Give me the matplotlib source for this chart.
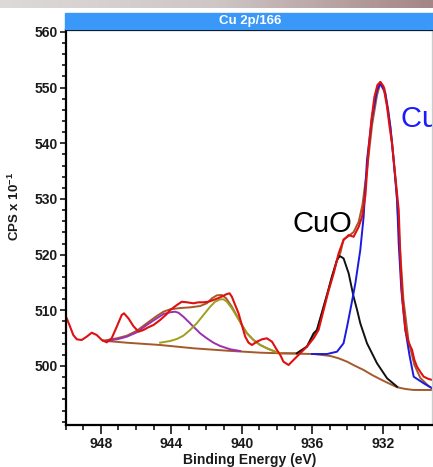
import numpy as np
import matplotlib
matplotlib.use('Agg')
import matplotlib.pyplot as plt
from matplotlib.patches import Rectangle
from matplotlib.ticker import MultipleLocator, FixedLocator

plt.rcParams['font.family'] = ['Liberation Sans', 'DejaVu Sans']
plt.rcParams['mathtext.fontset'] = 'custom'
plt.rcParams['mathtext.rm'] = 'Liberation Sans'
plt.rcParams['mathtext.bf'] = 'Liberation Sans:bold'

# raw spectrum (red)
raw_be = [949.93, 949.74, 949.56, 949.36, 949.08, 948.80, 948.51, 948.23, 947.94, 947.66,
          947.38, 947.09, 946.81, 946.68, 946.43, 946.15, 945.86, 945.58, 945.30, 945.01,
          944.63, 944.25, 944.06, 943.68, 943.40, 943.11, 942.74, 942.45, 942.17, 941.89,
          941.60, 941.22, 940.84, 940.69, 940.56, 940.37, 940.18, 939.99, 939.80, 939.61,
          939.42, 939.14, 938.85, 938.57, 938.28, 938.00, 937.81, 937.63, 937.34, 937.06,
          936.68, 936.30, 935.92, 935.64, 935.35, 935.09, 934.78, 934.50, 934.22, 933.93,
          933.65, 933.36, 933.17, 932.98, 932.80, 932.64, 932.47, 932.30, 932.13, 931.96,
          931.75, 931.62, 931.47, 931.28, 931.09, 930.99, 930.88, 930.71, 930.54, 930.33,
          930.20, 930.05, 929.86, 929.67, 929.40, 929.18, 928.80]
raw_cps = [508.56, 507.06, 505.57, 504.79, 504.67, 505.26, 505.98, 505.57, 504.67, 504.25,
           504.97, 507.06, 509.16, 509.46, 508.56, 507.18, 506.16, 506.46, 506.95, 507.36,
           508.26, 509.34, 510.05, 510.95, 511.54, 511.44, 511.26, 511.44, 511.44, 511.54,
           511.85, 512.33, 512.93, 513.05, 512.44, 510.95, 509.46, 507.36, 505.26, 504.18,
           503.77, 504.36, 504.79, 504.97, 504.36, 502.87, 501.97, 500.77, 500.18, 501.08,
           502.28, 503.47, 504.97, 506.46, 510.05, 513.29, 516.64, 520.23, 522.62, 523.52,
           523.21, 525.01, 526.80, 530.70, 538.78, 544.17, 548.29, 550.45, 551.04, 550.27,
           546.55, 543.27, 539.98, 533.99, 528.01, 519.03, 511.85, 506.46, 504.31, 502.87,
           501.08, 499.87, 498.92, 498.08, 497.67, 497.49, 497.2]

# background (brown)
bg_be = [947.85, 946.52, 944.63, 942.74, 940.84, 938.95, 937.81, 935.92, 934.97, 934.50,
         934.02, 933.55, 933.08, 932.60, 932.13, 931.66, 931.18, 930.71, 930.24, 929.19, 928.80]
bg_cps = [504.54, 504.18, 503.77, 503.18, 502.75, 502.39, 502.28, 502.15, 501.80, 501.38,
          500.77, 500.00, 499.28, 498.38, 497.61, 496.89, 496.18, 495.87, 495.69, 495.69, 495.69]

# envelope (brown)
env_be = [947.85, 947.09, 946.52, 945.95, 945.39, 944.82, 944.44, 944.06, 943.49, 942.93,
          942.36, 941.98, 941.69, 941.41, 941.13, 940.88, 940.56, 940.27, 939.99, 939.70,
          939.33, 938.95, 938.57, 938.10, 937.81, 936.87, 936.30, 935.73, 935.35, 934.88,
          934.59, 934.40, 934.22, 933.93, 933.65, 933.36, 933.15, 932.89, 932.60, 932.32,
          932.13, 931.90, 931.68, 931.45, 931.22, 931.05, 930.82, 930.54, 930.20, 929.86,
          929.40, 929.12, 928.80]
env_cps = [504.54, 504.97, 505.44, 506.34, 507.67, 508.98, 509.75, 510.18, 510.41, 510.53,
           510.77, 511.26, 512.15, 512.69, 512.75, 512.15, 510.65, 508.98, 507.36, 505.87,
           504.67, 503.77, 503.18, 502.57, 502.28, 502.28, 503.47, 506.46, 510.65, 516.03,
           519.03, 520.30, 522.75, 523.34, 524.06, 525.91, 528.90, 535.20, 543.30, 548.65,
           550.80, 549.90, 545.96, 539.68, 531.60, 522.60, 511.85, 504.67, 500.18, 497.85,
           496.41, 495.87, 495.70]

# CuO (black)
cuo_be = [936.87, 936.30, 935.92, 935.73, 935.35, 935.11, 934.88, 934.59, 934.44, 934.22,
          933.93, 933.65, 933.45, 933.27, 932.89, 932.32, 931.75, 931.18]
cuo_cps = [502.28, 503.47, 505.87, 506.46, 510.65, 513.29, 516.03, 519.03, 519.75, 519.34,
           516.64, 512.44, 510.05, 507.67, 504.08, 500.48, 497.79, 496.28]

# Cu2O / Cu (blue)
cu2o_be = [936.01, 935.16, 934.59, 934.22, 934.02, 933.78, 933.55, 933.27, 933.08, 932.89,
           932.60, 932.32, 932.13, 931.85, 931.56, 931.38, 931.18, 931.09, 930.94, 930.71,
           930.48, 930.24, 929.67, 929.19, 928.80]
cu2o_cps = [502.15, 502.15, 502.57, 504.08, 507.06, 510.95, 514.85, 520.83, 526.80, 536.98,
            544.76, 549.55, 550.75, 548.96, 542.96, 536.98, 529.80, 522.03, 513.64, 506.46,
            501.97, 498.08, 496.89, 495.99, 495.75]

# satellite 1 (purple)
sat1_be = [947.66, 947.00, 946.52, 945.95, 945.39, 944.82, 944.44, 944.06, 943.78, 943.59,
           943.31, 943.02, 942.74, 942.36, 941.98, 941.60, 941.22, 940.65, 940.09]
sat1_cps = [504.49, 504.85, 505.26, 506.05, 507.36, 508.56, 509.34, 509.64, 509.75, 509.57,
            508.85, 507.95, 507.06, 505.87, 504.97, 504.18, 503.59, 503.00, 502.69]

# satellite 2 (olive)
sat2_be = [944.63, 944.06, 943.68, 943.31, 942.93, 942.55, 942.17, 941.79, 941.51, 941.22,
           941.03, 940.84, 940.56, 940.27, 939.99, 939.70, 939.33, 938.95, 938.57, 938.10, 937.81]
sat2_cps = [504.18, 504.49, 504.85, 505.44, 506.46, 507.67, 509.16, 510.65, 511.54, 511.97,
            511.97, 511.54, 510.36, 508.85, 507.36, 505.87, 504.67, 503.77, 503.18, 502.57, 502.28]

W, H = 433, 467
fig = plt.figure(figsize=(W / 100, H / 100), dpi=100)

# grey strip at the very top (window chrome)
strip = fig.add_axes([0, 1 - 8 / H, 1, 8 / H])
grad = np.linspace(0, 1, 256).reshape(1, -1)
strip.imshow(grad, aspect='auto',
             cmap=matplotlib.colors.LinearSegmentedColormap.from_list('g', ['#dedada', '#cfc6c6', '#a58585']))
strip.axis('off')

ax = fig.add_axes([65.5 / W, (H - 425) / H, (432 - 65.5) / W, (425 - 30) / H])

lw = 1.4
ax.plot(bg_be, bg_cps, color='#a5582a', lw=lw)
ax.plot(env_be, env_cps, color='#a5582a', lw=lw)
ax.plot(sat1_be, sat1_cps, color='#9b2fae', lw=lw)
ax.plot(sat2_be, sat2_cps, color='#9f9f1f', lw=lw)
ax.plot(cuo_be, cuo_cps, color='#111111', lw=lw)
ax.plot(cu2o_be, cu2o_cps, color='#1a1ae0', lw=lw)
ax.plot(raw_be, raw_cps, color='#e01010', lw=1.5)

ax.text(937.13, 524.1, 'CuO', fontsize=21, color='black', family='Liberation Sans')
# label runs past the right edge in the original, so it is clipped by the axes
ax.text(930.99, 542.9, 'Cu$_2$O', fontsize=21, color='#1a1aff', clip_on=True,
        family='Liberation Sans')

ax.set_xlim(950, 929.2)
ax.set_ylim(489.4, 560.35)

ax.xaxis.set_major_locator(FixedLocator([948, 944, 940, 936, 932]))
ax.xaxis.set_minor_locator(MultipleLocator(1))
ax.yaxis.set_major_locator(FixedLocator([500, 510, 520, 530, 540, 550, 560]))
ax.yaxis.set_minor_locator(MultipleLocator(2))
ax.tick_params(which='major', direction='out', length=6.5, width=1.1, labelsize=10, pad=2)
ax.tick_params(which='minor', direction='out', length=3.6, width=1.1)
ax.tick_params(axis='y', which='major', length=4.5, pad=1)
ax.tick_params(axis='y', which='minor', length=3)
for lab in ax.get_xticklabels() + ax.get_yticklabels():
    lab.set_fontweight('bold')
    lab.set_color('#1a1a1a')

for s in ['left', 'bottom', 'top']:
    ax.spines[s].set_linewidth(1.6)
ax.spines['right'].set_color('#cccccc')
ax.spines['right'].set_linewidth(1.0)

# blue title bar
fig.patches.append(Rectangle((65 / W, (H - 29) / H), (W - 65) / W, 16 / H,
                             transform=fig.transFigure, color='#3a98f8', zorder=0))
fig.text(250 / W, (H - 21) / H, 'Cu 2p/166', color='white', fontsize=9.5,
         fontweight='bold', ha='center', va='center')

fig.text(250 / W, (H - 460) / H, 'Binding Energy (eV)', fontsize=10, fontweight='bold',
         ha='center', va='center', color='#1a1a1a')
fig.text(14 / W, (H - 206) / H, r'CPS x 10$^{\mathbf{-1}}$', fontsize=9.5, fontweight='bold',
         rotation=90, ha='center', va='center', color='#1a1a1a')

fig.savefig('out.png', dpi=100)
